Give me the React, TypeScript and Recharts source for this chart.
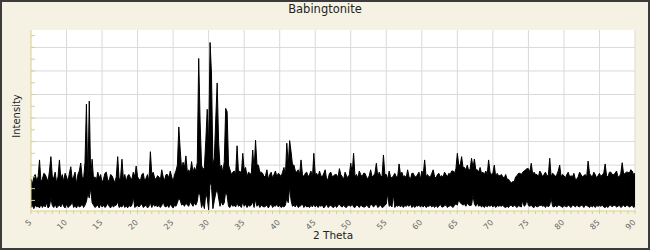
import { AreaChart, Area, XAxis, YAxis, CartesianGrid } from 'recharts'

// powder pattern, one bin every 0.2 deg 2-theta:
// the top (ceiling) and bottom (floor) of the trace inside each bin
const STEP = 0.2
const ceiling5to45 = [
  140, 120, 150, 160, 135,
  150, 222, 130, 140, 165,
  160, 145, 130, 175, 236,
  150, 145, 170, 125, 150,
  222, 140, 160, 130, 165,
  150, 130, 165, 193, 140,
  150, 170, 120, 160, 175,
  209, 150, 140, 212, 459,
  120, 472, 150, 225, 140,
  150, 135, 170, 145, 160,
  125, 140, 165, 170, 135,
  135, 160, 155, 140, 125,
  150, 236, 140, 145, 225,
  140, 160, 130, 155, 160,
  145, 140, 170, 150, 196,
  150, 140, 135, 160, 165,
  130, 145, 160, 130, 257,
  160, 170, 145, 140, 155,
  150, 135, 180, 150, 135,
  160, 160, 145, 175, 150,
  130, 160, 175, 200, 362,
  264, 180, 212, 190, 239,
  170, 180, 165, 215, 170,
  190, 175, 210, 653, 384,
  200, 180, 190, 304, 437,
  281, 721, 587, 200, 230,
  396, 549, 299, 190, 200,
  170, 214, 441, 427, 200,
  180, 160, 170, 175, 160,
  282, 170, 175, 160, 250,
  180, 190, 150, 170, 165,
  160, 264, 180, 306, 200,
  200, 170, 170, 165, 150,
  155, 180, 140, 160, 170,
  145, 160, 175, 150, 165,
  160, 150, 170, 190, 155,
  293, 200, 304, 257, 200,
  200, 175, 170, 180, 160,
  222, 160, 150, 165, 170,
  150, 160, 175, 145, 250
]
const ceiling45to90 = [
  160, 165, 150, 175, 155,
  150, 165, 180, 140, 140,
  165, 170, 150, 155, 160,
  160, 145, 185, 160, 150,
  140, 170, 155, 145, 160,
  208, 165, 250, 150, 160,
  145, 175, 160, 150, 165,
  165, 150, 140, 155, 180,
  150, 155, 165, 208, 150,
  170, 155, 150, 243, 160,
  160, 140, 175, 150, 145,
  155, 165, 150, 150, 205,
  160, 170, 150, 155, 145,
  180, 150, 140, 165, 165,
  150, 150, 160, 170, 140,
  175, 160, 222, 150, 160,
  150, 150, 165, 180, 150,
  145, 160, 165, 150, 155,
  150, 170, 160, 150, 165,
  160, 175, 175, 165, 185,
  250, 200, 200, 236, 190,
  190, 180, 200, 175, 185,
  229, 190, 226, 180, 180,
  170, 190, 165, 170, 160,
  175, 160, 222, 170, 160,
  165, 200, 150, 165, 155,
  155, 160, 150, 145, 160,
  140, 140, 130, 125, 130,
  130, 150, 155, 165, 165,
  160, 170, 175, 180, 185,
  185, 170, 208, 160, 170,
  160, 160, 150, 175, 165,
  150, 160, 170, 155, 155,
  229, 150, 165, 160, 150,
  160, 175, 200, 150, 160,
  155, 145, 160, 170, 150,
  155, 150, 165, 140, 140,
  150, 170, 160, 150, 155,
  160, 150, 217, 165, 155,
  150, 170, 160, 145, 155,
  165, 150, 160, 165, 205,
  155, 150, 170, 170, 160,
  160, 165, 175, 150, 150,
  165, 210, 160, 165, 170,
  170, 165, 180, 175, 160,
  165
]
const floor5to45 = [
  20, 28, 15, 30, 22,
  25, 18, 35, 20, 30,
  22, 40, 18, 25, 60,
  28, 20, 35, 18, 25,
  30, 22, 40, 25, 18,
  35, 20, 25, 30, 45,
  20, 28, 18, 30, 22,
  25, 35, 20, 30, 45,
  80, 60, 103, 40, 30,
  20, 25, 30, 18, 35,
  22, 30, 20, 25, 40,
  25, 18, 30, 22, 28,
  30, 45, 20, 25, 22,
  35, 20, 28, 18, 30,
  22, 30, 65, 20, 25,
  28, 22, 30, 35, 20,
  25, 30, 18, 25, 40,
  20, 35, 25, 30, 22,
  30, 20, 28, 45, 25,
  22, 30, 20, 35, 25,
  18, 30, 25, 40, 60,
  50, 30, 35, 25, 40,
  30, 25, 45, 35, 25,
  40, 30, 45, 90, 70,
  20, 40, 15, 80, 60,
  10, 130, 110, 15, 50,
  80, 100, 60, 25, 45,
  30, 40, 90, 70, 25,
  20, 35, 25, 30, 22,
  40, 25, 30, 20, 45,
  25, 35, 20, 30, 25,
  30, 45, 20, 55, 25,
  35, 20, 30, 25, 22,
  25, 30, 18, 28, 35,
  20, 28, 25, 35, 22,
  30, 20, 25, 22, 30,
  60, 40, 108, 50, 25,
  30, 22, 35, 20, 25,
  28, 35, 20, 30, 22,
  25, 20, 30, 22, 35
]
const floor45to90 = [
  22, 30, 20, 28, 25,
  30, 18, 25, 35, 20,
  25, 30, 22, 20, 30,
  20, 28, 35, 25, 22,
  30, 22, 20, 30, 28,
  25, 35, 22, 20, 30,
  28, 20, 30, 25, 22,
  22, 30, 25, 18, 35,
  30, 22, 28, 35, 20,
  25, 30, 20, 22, 30,
  35, 80, 25, 30, 22,
  75, 20, 28, 25, 30,
  22, 30, 20, 28, 25,
  30, 25, 35, 20, 28,
  20, 28, 25, 30, 22,
  28, 22, 30, 20, 25,
  25, 30, 22, 28, 20,
  30, 20, 25, 35, 22,
  22, 28, 30, 20, 25,
  28, 25, 20, 30, 35,
  30, 55, 40, 35, 30,
  35, 25, 40, 30, 28,
  30, 73, 35, 25, 40,
  25, 30, 22, 28, 20,
  30, 22, 28, 25, 30,
  22, 30, 20, 28, 25,
  28, 25, 30, 22, 20,
  25, 20, 28, 30, 22,
  30, 25, 20, 28, 25,
  22, 50, 25, 30, 55,
  28, 25, 30, 22, 20,
  30, 22, 25, 28, 30,
  25, 28, 20, 30, 22,
  30, 60, 25, 22, 28,
  22, 30, 28, 25, 20,
  28, 25, 22, 30, 25,
  20, 30, 28, 22, 30,
  25, 22, 30, 28, 20,
  30, 28, 25, 20, 28,
  22, 30, 20, 28, 25,
  28, 25, 30, 22, 20,
  25, 20, 28, 30, 22,
  30, 28, 22, 25, 30,
  20, 25, 30, 22, 28,
  28, 22, 25, 30, 20,
  25
]

const ceiling = [...ceiling5to45, ...ceiling45to90]
const floor = [...floor5to45, ...floor45to90]
const data = ceiling.map((top, i) => ({
  theta: Math.round((5 + i * STEP) * 10) / 10,
  range: [floor[i], top]
}))

const xTicks = Array.from({ length: 86 }, (_, i) => 5 + i)
const xGrid = [10, 15, 20, 25, 30, 35, 40, 45, 50, 55, 60, 65, 70, 75, 80, 85, 90]
const yTicks = [50, 100, 150, 200, 250, 300, 350, 400, 450, 500, 550, 600, 650, 700, 750]
const yGrid = [100, 200, 300, 400, 500, 600, 700]

const AXIS = '#d8cf8a'
const FONT = '"DejaVu Sans", Verdana, sans-serif'

function ThetaTick({ x, y, payload }: any) {
  const v = payload.value
  return (
    <g>
      <line x1={x} y1={y} x2={x} y2={y + 3} stroke={AXIS} />
      {v % 5 === 0 && (
        <text
          x={x + 1}
          y={y + 12}
          textAnchor="end"
          fontSize={8}
          fill="#666"
          fontFamily={FONT}
          transform={`rotate(-45 ${x + 1} ${y + 12})`}
        >
          {v}
        </text>
      )}
    </g>
  )
}

function IntensityTick({ x, y }: any) {
  return <line x1={x} y1={y} x2={x + 4} y2={y} stroke={AXIS} />
}

export default function App() {
  return (
    <div style={{ position: 'relative', width: 650, height: 250, background: '#f5f2e4', fontFamily: FONT }}>
      <style>{'body{margin:0}'}</style>
      <AreaChart width={650} height={250} data={data} margin={{ top: 30, right: 15, bottom: 0, left: 0 }}>
        <CartesianGrid
          fill="#fff"
          fillOpacity={1}
          stroke="#d9d9d9"
          verticalValues={xGrid}
          horizontalValues={yGrid}
        />
        <XAxis
          dataKey="theta"
          type="number"
          domain={[5, 90]}
          ticks={xTicks}
          interval={0}
          height={39}
          tickSize={0}
          tickMargin={0}
          axisLine={{ stroke: AXIS }}
          tick={<ThetaTick />}
        />
        <YAxis
          type="number"
          domain={[5, 774]}
          allowDataOverflow
          ticks={yTicks}
          interval={0}
          width={31}
          tickSize={0}
          tickMargin={0}
          axisLine={{ stroke: AXIS }}
          tick={<IntensityTick />}
        />
        <Area
          dataKey="range"
          type="linear"
          stroke="#000"
          strokeWidth={1}
          fill="#000"
          fillOpacity={1}
          dot={false}
          activeDot={false}
          isAnimationActive={false}
        />
      </AreaChart>
      <div style={{ position: 'absolute', top: 3, left: 0, width: 650, textAlign: 'center', fontSize: 11.5, lineHeight: '13px', color: '#222' }}>
        Babingtonite
      </div>
      <div style={{ position: 'absolute', top: 229, left: 313, fontSize: 10.5, lineHeight: '12px', color: '#222', whiteSpace: 'nowrap' }}>
        2 Theta
      </div>
      <div
        style={{
          position: 'absolute',
          left: 16,
          top: 116,
          fontSize: 10,
          lineHeight: '11px',
          color: '#222',
          whiteSpace: 'nowrap',
          transform: 'translate(-50%, -50%) rotate(-90deg)'
        }}
      >
        Intensity
      </div>
      <div style={{ position: 'absolute', inset: 0, border: '2px solid #3c3c3c', pointerEvents: 'none' }} />
    </div>
  )
}
